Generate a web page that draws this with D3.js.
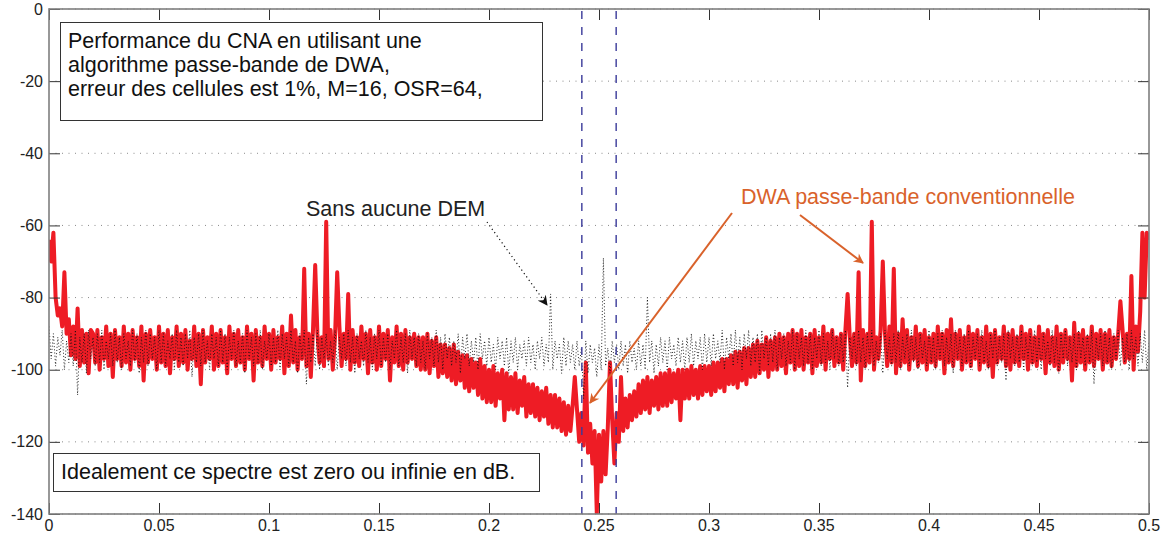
<!DOCTYPE html>
<html>
<head>
<meta charset="utf-8">
<script src="https://cdn.jsdelivr.net/npm/d3@7"></script>
<style>
  html, body { margin: 0; padding: 0; background: #fff; }
  svg { display: block; font-family: "Liberation Sans", Arial, sans-serif; }
</style>
</head>
<body>
<svg id="chart" width="1166" height="540"></svg>
<script>
// ---- data ----
const freqStep = 0.001;               // FFT bin spacing (normalised frequency)
const xTicks = [0, 0.05, 0.1, 0.15, 0.2, 0.25, 0.3, 0.35, 0.4, 0.45, 0.5];
const xTickLabels = ["0", "0.05", "0.1", "0.15", "0.2", "0.25", "0.3", "0.35", "0.4", "0.45", "0.5"];
const yTicks = [0, -20, -40, -60, -80, -100, -120, -140];
const yTickLabels = ["0", "-20", "-40", "-60", "-80", "-100", "-120", "-140"];
const bandEdges = [0.2422, 0.2578];   // signal band, OSR = 64 around fs/4

// DWA passe-bande conventionnelle (dB), one value per bin
const dwaSpectrum = [
  -64,-70,-62,-80,-85,-83,-88,-73,-90,-86,
  -96,-88,-97,-83,-99,-89,-98,-90,-101,-89,
  -90,-98,-89,-100,-91,-97,-88,-99,-90,-102,
  -89,-97,-91,-99,-88,-98,-90,-100,-89,-97,
  -91,-99,-88,-103,-90,-98,-89,-97,-91,-100,
  -88,-98,-90,-99,-89,-101,-91,-97,-88,-99,
  -90,-98,-89,-100,-92,-97,-88,-99,-90,-104,
  -89,-98,-91,-97,-88,-100,-90,-99,-89,-98,
  -91,-101,-88,-97,-90,-99,-89,-98,-91,-100,
  -88,-97,-90,-103,-89,-98,-91,-99,-88,-97,
  -90,-100,-89,-98,-91,-97,-88,-101,-90,-99,
  -85,-98,-89,-100,-91,-97,-72,-99,-90,-102,
  -89,-71,-90,-98,-91,-99,-59,-97,-89,-100,
  -91,-73,-88,-99,-90,-97,-79,-100,-89,-98,
  -91,-99,-88,-97,-90,-101,-89,-98,-91,-100,
  -88,-99,-90,-97,-89,-103,-91,-98,-88,-99,
  -90,-100,-89,-98,-91,-97,-90,-99,-91,-100,
  -91,-100,-90,-101,-92,-99,-91,-102,-93,-101,
  -93,-102,-94,-103,-93,-104,-95,-103,-96,-105,
  -96,-106,-97,-105,-98,-107,-97,-108,-99,-109,
  -100,-109,-99,-110,-101,-108,-100,-114,-101,-111,
  -102,-111,-101,-112,-103,-110,-102,-113,-104,-112,
  -104,-113,-105,-114,-106,-113,-105,-115,-107,-116,
  -107,-116,-108,-117,-109,-118,-110,-117,-110,-102,
  -111,-120,-112,-121,-98,-123,-115,-126,-117,-140,
  -118,-131,-117,-129,-116,-98,-114,-126,-112,-120,
  -102,-117,-108,-116,-107,-114,-106,-113,-104,-112,
  -103,-111,-102,-112,-103,-110,-102,-111,-101,-110,
  -101,-110,-100,-109,-101,-108,-100,-114,-100,-108,
  -100,-108,-99,-107,-100,-108,-99,-107,-99,-106,
  -99,-107,-98,-106,-98,-105,-97,-106,-97,-104,
  -96,-104,-95,-105,-95,-103,-94,-104,-94,-102,
  -93,-102,-92,-101,-93,-100,-91,-102,-92,-100,
  -91,-100,-90,-99,-91,-101,-90,-98,-89,-100,
  -90,-99,-89,-100,-91,-98,-90,-101,-89,-99,
  -91,-98,-88,-100,-90,-97,-89,-99,-91,-98,
  -90,-100,-89,-79,-91,-99,-90,-98,-73,-103,
  -89,-99,-90,-98,-59,-100,-91,-97,-89,-70,
  -90,-99,-88,-98,-72,-101,-90,-99,-86,-98,
  -89,-100,-91,-97,-88,-99,-90,-98,-89,-100,
  -91,-98,-90,-99,-88,-97,-90,-101,-89,-98,
  -86,-99,-90,-97,-89,-100,-91,-98,-88,-99,
  -90,-97,-89,-100,-91,-98,-88,-99,-90,-102,
  -89,-98,-91,-97,-88,-99,-90,-100,-89,-98,
  -91,-99,-88,-97,-90,-100,-89,-98,-91,-99,
  -88,-97,-90,-101,-89,-98,-91,-99,-88,-100,
  -90,-98,-89,-97,-91,-103,-87,-99,-90,-98,
  -89,-100,-91,-98,-88,-99,-90,-97,-89,-100,
  -90,-98,-89,-99,-91,-97,-90,-81,-89,-98,
  -90,-97,-74,-100,-88,-95,-84,-62,-80,-62,-64
];

// Sans aucune DEM (dB), one value per bin
const noDemSpectrum = [
  -88,-97,-90,-99,-91,-96,-89,-100,-92,-98,
  -90,-99,-89,-107,-91,-98,-90,-101,-89,-97,
  -91,-99,-90,-98,-89,-100,-92,-97,-90,-99,
  -89,-98,-91,-100,-90,-97,-92,-99,-89,-98,
  -90,-101,-91,-98,-89,-99,-90,-97,-91,-100,
  -89,-98,-90,-99,-92,-97,-90,-100,-89,-98,
  -91,-99,-90,-97,-89,-102,-91,-98,-90,-99,
  -89,-98,-92,-100,-90,-97,-91,-99,-89,-98,
  -90,-100,-91,-97,-89,-99,-92,-98,-90,-101,
  -89,-97,-91,-99,-90,-98,-89,-100,-92,-97,
  -90,-99,-91,-98,-89,-100,-90,-97,-91,-99,
  -89,-98,-92,-101,-90,-97,-89,-104,-91,-98,
  -90,-99,-89,-100,-91,-97,-90,-99,-92,-98,
  -89,-100,-91,-97,-90,-99,-89,-98,-91,-101,
  -90,-97,-92,-99,-89,-98,-91,-100,-90,-97,
  -89,-99,-91,-98,-90,-100,-92,-97,-89,-99,
  -91,-98,-90,-101,-89,-97,-91,-99,-90,-98,
  -92,-100,-90,-97,-91,-99,-89,-98,-91,-100,
  -90,-97,-91,-99,-92,-98,-90,-101,-91,-97,
  -90,-99,-92,-98,-91,-100,-90,-97,-92,-99,
  -91,-98,-93,-100,-91,-97,-92,-99,-91,-101,
  -92,-98,-91,-100,-93,-97,-92,-99,-91,-98,
  -93,-100,-92,-97,-91,-99,-93,-98,-79,-100,
  -92,-97,-93,-101,-91,-99,-92,-98,-93,-100,
  -92,-99,-94,-108,-92,-101,-93,-98,-94,-102,
  -93,-100,-69,-99,-94,-101,-92,-98,-93,-100,
  -92,-99,-93,-101,-92,-98,-94,-100,-92,-99,
  -93,-100,-80,-98,-92,-101,-93,-99,-91,-98,
  -92,-100,-91,-97,-93,-99,-91,-98,-92,-100,
  -91,-98,-90,-99,-92,-97,-91,-100,-90,-98,
  -91,-99,-90,-97,-92,-98,-89,-100,-91,-97,
  -90,-99,-89,-98,-91,-100,-90,-97,-89,-99,
  -91,-98,-90,-101,-89,-97,-91,-99,-90,-98,
  -89,-100,-91,-97,-90,-99,-92,-98,-89,-100,
  -90,-97,-91,-99,-89,-98,-90,-100,-91,-97,
  -89,-99,-90,-98,-92,-100,-89,-97,-91,-99,
  -90,-98,-89,-105,-91,-97,-90,-99,-89,-98,
  -91,-100,-90,-97,-89,-99,-92,-98,-90,-101,
  -89,-97,-91,-99,-90,-98,-89,-100,-91,-97,
  -90,-99,-89,-98,-91,-100,-90,-97,-92,-99,
  -89,-98,-91,-100,-90,-97,-89,-99,-91,-98,
  -90,-101,-89,-97,-91,-99,-90,-98,-89,-100,
  -91,-97,-90,-99,-89,-98,-92,-100,-90,-97,
  -89,-99,-91,-98,-90,-103,-89,-97,-91,-99,
  -90,-98,-89,-100,-91,-97,-90,-99,-89,-98,
  -91,-100,-90,-97,-92,-99,-89,-98,-91,-101,
  -90,-97,-89,-99,-91,-98,-90,-100,-89,-97,
  -91,-99,-90,-98,-89,-104,-91,-97,-90,-99,
  -89,-98,-91,-100,-90,-97,-89,-99,-91,-98,
  -90,-100,-89,-97,-91,-99,-90,-98,-89,-100,-92
];

const titleLines = [
  "Performance du CNA en utilisant une",
  "algorithme passe-bande de DWA,",
  "erreur des cellules est 1%, M=16, OSR=64,"
];
const noteText = "Idealement ce spectre est zero ou infinie en dB.";
const labelNoDem = "Sans aucune DEM";
const labelDwa = "DWA passe-bande conventionnelle";

// ---- layout ----
const pL = 49, pR = 1149, pT = 9, pB = 514;
const svg = d3.select("#chart");
const x = d3.scaleLinear().domain([0, 0.5]).range([pL, pR]);
const y = d3.scaleLinear().domain([-140, 0]).range([pB, pT]);

const orange = "#d9622b";
const red = "#ee1c25";
const textSize = 21.5;

// defs: clip & arrowheads
const defs = svg.append("defs");
defs.append("clipPath").attr("id", "clip").append("rect")
  .attr("x", pL).attr("y", pT).attr("width", pR - pL).attr("height", pB - pT);
function marker(id, color) {
  defs.append("marker").attr("id", id).attr("viewBox", "0 0 10 10")
    .attr("refX", 9).attr("refY", 5).attr("markerWidth", 12).attr("markerHeight", 10)
    .attr("markerUnits", "userSpaceOnUse").attr("orient", "auto")
    .append("path").attr("d", "M0,0 L10,5 L0,10 L3,5 Z").attr("fill", color);
}
marker("arrOrange", orange);
marker("arrBlack", "#111");

// horizontal dotted grid
svg.append("g").selectAll("line").data(yTicks).join("line")
  .attr("x1", pL).attr("x2", pR)
  .attr("y1", d => y(d)).attr("y2", d => y(d))
  .attr("stroke", "#8a8a8a").attr("stroke-width", 1)
  .attr("stroke-dasharray", "1,5.5");

// series
const plot = svg.append("g").attr("clip-path", "url(#clip)");
const line = d3.line().x((d, i) => x(i * freqStep)).y(d => y(d));

plot.append("path").datum(dwaSpectrum)
  .attr("d", line).attr("fill", "none")
  .attr("stroke", red).attr("stroke-width", 4)
  .attr("stroke-linejoin", "round");

plot.append("path").datum(noDemSpectrum)
  .attr("d", line).attr("fill", "none")
  .attr("stroke", "#111").attr("stroke-width", 0.9)
  .attr("stroke-dasharray", "1,2.2");

// signal band edges
plot.append("g").selectAll("line").data(bandEdges).join("line")
  .attr("x1", d => x(d)).attr("x2", d => x(d))
  .attr("y1", pT).attr("y2", pB)
  .attr("stroke", "#3a3a9a").attr("stroke-width", 1.4)
  .attr("stroke-dasharray", "8,8").attr("stroke-dashoffset", -2);

// axes frame
const axisColor = "#7f7f7f";
const tickLen = 11;
const yAxisL = d3.axisRight(y).tickValues(yTicks).tickSize(tickLen).tickFormat("");
const yAxisR = d3.axisLeft(y).tickValues(yTicks).tickSize(tickLen).tickFormat("");
const xAxisB = d3.axisTop(x).tickValues(xTicks).tickSize(tickLen).tickFormat("");
const xAxisT = d3.axisBottom(x).tickValues(xTicks).tickSize(tickLen).tickFormat("");
function styleAxis(g) {
  g.select(".domain").remove();
  g.selectAll(".tick line").attr("stroke", "#333").attr("stroke-width", 1);
}
svg.append("g").attr("transform", `translate(${pL},0)`).call(yAxisL).call(styleAxis);
svg.append("g").attr("transform", `translate(${pR},0)`).call(yAxisR).call(styleAxis);
svg.append("g").attr("transform", `translate(0,${pB})`).call(xAxisB).call(styleAxis);
svg.append("g").attr("transform", `translate(0,${pT})`).call(xAxisT).call(styleAxis);
svg.append("rect").attr("x", pL).attr("y", pT)
  .attr("width", pR - pL).attr("height", pB - pT)
  .attr("fill", "none").attr("stroke", axisColor).attr("stroke-width", 1.6);

// tick labels
svg.append("g").selectAll("text").data(yTicks).join("text")
  .attr("x", pL - 6).attr("y", d => y(d)).attr("dy", "0.35em")
  .attr("text-anchor", "end").attr("font-size", 16).attr("fill", "#222")
  .text((d, i) => yTickLabels[i]);
svg.append("g").selectAll("text").data(xTicks).join("text")
  .attr("x", d => x(d)).attr("y", pB + 17)
  .attr("text-anchor", "middle").attr("font-size", 16).attr("fill", "#222")
  .text((d, i) => xTickLabels[i]);

// title box
svg.append("rect").attr("x", 60.5).attr("y", 22.5).attr("width", 482).attr("height", 98)
  .attr("fill", "#fff").attr("stroke", "#333").attr("stroke-width", 1);
svg.append("g").selectAll("text").data(titleLines).join("text")
  .attr("x", 68).attr("y", (d, i) => 48 + i * 24)
  .attr("font-size", textSize).attr("fill", "#111").text(d => d);

// note box
svg.append("rect").attr("x", 53.5).attr("y", 453.5).attr("width", 486).attr("height", 38)
  .attr("fill", "#fff").attr("stroke", "#333").attr("stroke-width", 1);
svg.append("text").attr("x", 61).attr("y", 479).attr("font-size", textSize)
  .attr("fill", "#111").text(noteText);

// annotations
svg.append("text").attr("x", 306).attr("y", 216).attr("font-size", textSize)
  .attr("fill", "#222").text(labelNoDem);
svg.append("line").attr("x1", 487).attr("y1", 222).attr("x2", 547).attr("y2", 305)
  .attr("stroke", "#111").attr("stroke-width", 1.2).attr("stroke-dasharray", "1.2,3")
  .attr("marker-end", "url(#arrBlack)");

svg.append("text").attr("x", 741).attr("y", 204).attr("font-size", textSize)
  .attr("fill", orange).text(labelDwa);
svg.append("line").attr("x1", 732).attr("y1", 213).attr("x2", 590).attr("y2", 403)
  .attr("stroke", orange).attr("stroke-width", 2).attr("marker-end", "url(#arrOrange)");
svg.append("line").attr("x1", 800).attr("y1", 215).attr("x2", 863).attr("y2", 263)
  .attr("stroke", orange).attr("stroke-width", 2).attr("marker-end", "url(#arrOrange)");
</script>
</body>
</html>
